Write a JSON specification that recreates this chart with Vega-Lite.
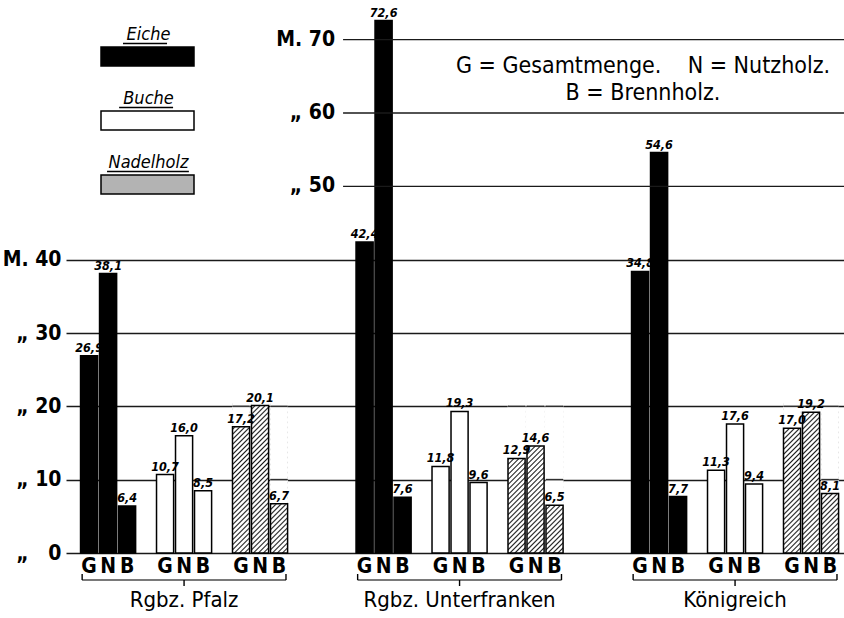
{
  "$schema": "https://vega.github.io/schema/vega-lite/v6.json",
  "width": 778,
  "height": 550,
  "autosize": {"type": "none"},
  "padding": {"left": 66, "top": 3, "right": 0, "bottom": 65},
  "background": "white",
  "config": {
    "view": {"stroke": null},
    "font": "Liberation Sans Narrow, DejaVu Sans Condensed, sans-serif"
  },
  "title": {
    "text": ["G = Gesamtmenge.\u00a0\u00a0\u00a0 N = Nutzholz.", "B = Brennholz."],
    "anchor": "middle",
    "frame": "group",
    "orient": "top",
    "offset": 0,
    "dx": 188,
    "dy": 102,
    "baseline": "top",
    "align": "center",
    "fontSize": 23,
    "fontWeight": "normal",
    "color": "#000",
    "lineHeight": 27
  },
  "datasets": {
    "bars": [
      {"region": "Rgbz. Pfalz", "species": "Eiche", "measure": "G", "bar": "Eiche G", "value": 26.9, "label": "26,9"},
      {"region": "Rgbz. Pfalz", "species": "Eiche", "measure": "N", "bar": "Eiche N", "value": 38.1, "label": "38,1"},
      {"region": "Rgbz. Pfalz", "species": "Eiche", "measure": "B", "bar": "Eiche B", "value": 6.4, "label": "6,4"},
      {"region": "Rgbz. Pfalz", "species": "Buche", "measure": "G", "bar": "Buche G", "value": 10.7, "label": "10,7"},
      {"region": "Rgbz. Pfalz", "species": "Buche", "measure": "N", "bar": "Buche N", "value": 16.0, "label": "16,0"},
      {"region": "Rgbz. Pfalz", "species": "Buche", "measure": "B", "bar": "Buche B", "value": 8.5, "label": "8,5"},
      {"region": "Rgbz. Pfalz", "species": "Nadelholz", "measure": "G", "bar": "Nadelholz G", "value": 17.2, "label": "17,2"},
      {"region": "Rgbz. Pfalz", "species": "Nadelholz", "measure": "N", "bar": "Nadelholz N", "value": 20.1, "label": "20,1"},
      {"region": "Rgbz. Pfalz", "species": "Nadelholz", "measure": "B", "bar": "Nadelholz B", "value": 6.7, "label": "6,7"},
      {"region": "Rgbz. Unterfranken", "species": "Eiche", "measure": "G", "bar": "Eiche G", "value": 42.4, "label": "42,4"},
      {"region": "Rgbz. Unterfranken", "species": "Eiche", "measure": "N", "bar": "Eiche N", "value": 72.6, "label": "72,6"},
      {"region": "Rgbz. Unterfranken", "species": "Eiche", "measure": "B", "bar": "Eiche B", "value": 7.6, "label": "7,6"},
      {"region": "Rgbz. Unterfranken", "species": "Buche", "measure": "G", "bar": "Buche G", "value": 11.8, "label": "11,8"},
      {"region": "Rgbz. Unterfranken", "species": "Buche", "measure": "N", "bar": "Buche N", "value": 19.3, "label": "19,3"},
      {"region": "Rgbz. Unterfranken", "species": "Buche", "measure": "B", "bar": "Buche B", "value": 9.6, "label": "9,6"},
      {"region": "Rgbz. Unterfranken", "species": "Nadelholz", "measure": "G", "bar": "Nadelholz G", "value": 12.9, "label": "12,9"},
      {"region": "Rgbz. Unterfranken", "species": "Nadelholz", "measure": "N", "bar": "Nadelholz N", "value": 14.6, "label": "14,6"},
      {"region": "Rgbz. Unterfranken", "species": "Nadelholz", "measure": "B", "bar": "Nadelholz B", "value": 6.5, "label": "6,5"},
      {"region": "Königreich", "species": "Eiche", "measure": "G", "bar": "Eiche G", "value": 38.4, "label": "34,8"},
      {"region": "Königreich", "species": "Eiche", "measure": "N", "bar": "Eiche N", "value": 54.6, "label": "54,6"},
      {"region": "Königreich", "species": "Eiche", "measure": "B", "bar": "Eiche B", "value": 7.7, "label": "7,7"},
      {"region": "Königreich", "species": "Buche", "measure": "G", "bar": "Buche G", "value": 11.3, "label": "11,3"},
      {"region": "Königreich", "species": "Buche", "measure": "N", "bar": "Buche N", "value": 17.6, "label": "17,6"},
      {"region": "Königreich", "species": "Buche", "measure": "B", "bar": "Buche B", "value": 9.4, "label": "9,4"},
      {"region": "Königreich", "species": "Nadelholz", "measure": "G", "bar": "Nadelholz G", "value": 17.0, "label": "17,0"},
      {"region": "Königreich", "species": "Nadelholz", "measure": "N", "bar": "Nadelholz N", "value": 19.2, "label": "19,2"},
      {"region": "Königreich", "species": "Nadelholz", "measure": "B", "bar": "Nadelholz B", "value": 8.1, "label": "8,1"}
    ],
    "upper": [
      {"v": 50, "t": "„ 50"},
      {"v": 60, "t": "„ 60"},
      {"v": 70, "t": "M. 70"}
    ]
  },
  "layer": [
    {
      "data": {"name": "bars"},
      "transform": [{"filter": "datum.species !== 'Nadelholz'"}],
      "mark": {"type": "bar", "stroke": "#000", "strokeWidth": 1.5},
      "encoding": {
        "x": {
          "field": "region", "type": "nominal", "title": null,
          "scale": {"domain": ["Rgbz. Pfalz", "Rgbz. Unterfranken", "Königreich"], "paddingInner": 0.245, "paddingOuter": 0.0345, "align": 0.74},
          "axis": {"domain": false, "ticks": false, "labelPadding": 36, "labelFontSize": 22, "labelLimit": 0, "labelColor": "#000", "labelAngle": 0}
        },
        "xOffset": {
          "field": "bar", "type": "nominal",
          "scale": {"domain": ["Eiche G", "Eiche N", "Eiche B", "sp1", "Buche G", "Buche N", "Buche B", "sp2", "Nadelholz G", "Nadelholz N", "Nadelholz B"], "paddingInner": 0.1, "paddingOuter": 0.025}
        },
        "y": {
          "field": "value", "type": "quantitative", "title": null,
          "scale": {"domain": [0, 75], "nice": false, "zero": true},
          "axis": {
            "values": [0, 10, 20, 30, 40], "domain": false, "ticks": false, "grid": true,
            "gridColor": "#1a1a1a", "gridWidth": 1.3, "gridOpacity": 1,
            "labelPadding": 5, "labelFontSize": 21, "labelFontWeight": "bold", "labelColor": "#000",
            "labelExpr": "datum.value == 40 ? 'M. 40' : (datum.value == 0 ? '„\u00a0\u00a0\u00a00' : '„\u00a0' + datum.value)"
          }
        },
        "fill": {
          "field": "species", "type": "nominal",
          "scale": {"domain": ["Eiche", "Buche", "Nadelholz"], "range": ["#000000", "#ffffff", "#b3b3b3"]},
          "legend": {
            "orient": "none", "legendX": 34, "legendY": 6, "title": null, "padding": 0,
            "symbolSize": 8649, "symbolStrokeColor": "#000", "symbolStrokeWidth": 1.5,
            "symbolType": "M-1,-0.204H1V0.204H-1Z",
            "labelFontSize": 18, "labelFontStyle": "italic", "labelColor": "#000",
            "labelAlign": "center", "labelOffset": -46.5, "rowPadding": 4,
            "encode": {
              "symbols": {"update": {
                "stroke": {"value": "#000"},
                "strokeWidth": {"value": 1.5},
                "shape": [
                  {"test": "datum.value === 'Eiche'", "value": "M-1,-0.204H1V0.204H-1Z M-0.527,-0.28H0.42"},
                  {"test": "datum.value === 'Buche'", "value": "M-1,-0.204H1V0.204H-1Z M-0.61,-0.28H0.55"},
                  {"value": "M-1,-0.204H1V0.204H-1Z M-0.87,-0.28H0.89"}
                ]
              }},
              "labels": {"update": {"dy": {"value": -22}}}
            }
          }
        }
      }
    },
    {
      "data": {"name": "bars"},
      "transform": [{"filter": "datum.species === 'Nadelholz'"}],
      "mark": {"type": "bar", "strokeWidth": 0, "fill": {"gradient": "linear", "x1": 0, "y1": 0, "x2": 0.1251, "y2": 1.0997, "stops": [
        {"offset": 0, "color": "#fff"}, {"offset": 0.009, "color": "#1a1a1a"}, {"offset": 0.018, "color": "#fff"},
        {"offset": 0.03, "color": "#fff"}, {"offset": 0.039, "color": "#1a1a1a"}, {"offset": 0.048, "color": "#fff"},
        {"offset": 0.06, "color": "#fff"}, {"offset": 0.069, "color": "#1a1a1a"}, {"offset": 0.078, "color": "#fff"},
        {"offset": 0.09, "color": "#fff"}, {"offset": 0.099, "color": "#1a1a1a"}, {"offset": 0.108, "color": "#fff"},
        {"offset": 0.12, "color": "#fff"}, {"offset": 0.129, "color": "#1a1a1a"}, {"offset": 0.138, "color": "#fff"},
        {"offset": 0.15, "color": "#fff"}, {"offset": 0.159, "color": "#1a1a1a"}, {"offset": 0.168, "color": "#fff"},
        {"offset": 0.18, "color": "#fff"}, {"offset": 0.189, "color": "#1a1a1a"}, {"offset": 0.198, "color": "#fff"},
        {"offset": 0.21, "color": "#fff"}, {"offset": 0.219, "color": "#1a1a1a"}, {"offset": 0.228, "color": "#fff"},
        {"offset": 0.24, "color": "#fff"}, {"offset": 0.249, "color": "#1a1a1a"}, {"offset": 0.258, "color": "#fff"},
        {"offset": 0.27, "color": "#fff"}, {"offset": 0.279, "color": "#1a1a1a"}, {"offset": 0.288, "color": "#fff"},
        {"offset": 0.3, "color": "#fff"}, {"offset": 0.309, "color": "#1a1a1a"}, {"offset": 0.318, "color": "#fff"},
        {"offset": 0.33, "color": "#fff"}, {"offset": 0.339, "color": "#1a1a1a"}, {"offset": 0.348, "color": "#fff"},
        {"offset": 0.36, "color": "#fff"}, {"offset": 0.369, "color": "#1a1a1a"}, {"offset": 0.378, "color": "#fff"},
        {"offset": 0.39, "color": "#fff"}, {"offset": 0.399, "color": "#1a1a1a"}, {"offset": 0.408, "color": "#fff"},
        {"offset": 0.42, "color": "#fff"}, {"offset": 0.429, "color": "#1a1a1a"}, {"offset": 0.438, "color": "#fff"},
        {"offset": 0.45, "color": "#fff"}, {"offset": 0.459, "color": "#1a1a1a"}, {"offset": 0.468, "color": "#fff"},
        {"offset": 0.48, "color": "#fff"}, {"offset": 0.489, "color": "#1a1a1a"}, {"offset": 0.498, "color": "#fff"},
        {"offset": 0.51, "color": "#fff"}, {"offset": 0.519, "color": "#1a1a1a"}, {"offset": 0.528, "color": "#fff"},
        {"offset": 0.54, "color": "#fff"}, {"offset": 0.549, "color": "#1a1a1a"}, {"offset": 0.558, "color": "#fff"},
        {"offset": 0.57, "color": "#fff"}, {"offset": 0.579, "color": "#1a1a1a"}, {"offset": 0.588, "color": "#fff"},
        {"offset": 0.6, "color": "#fff"}, {"offset": 0.609, "color": "#1a1a1a"}, {"offset": 0.618, "color": "#fff"},
        {"offset": 0.63, "color": "#fff"}, {"offset": 0.639, "color": "#1a1a1a"}, {"offset": 0.648, "color": "#fff"},
        {"offset": 0.66, "color": "#fff"}, {"offset": 0.669, "color": "#1a1a1a"}, {"offset": 0.678, "color": "#fff"},
        {"offset": 0.69, "color": "#fff"}, {"offset": 0.699, "color": "#1a1a1a"}, {"offset": 0.708, "color": "#fff"},
        {"offset": 0.72, "color": "#fff"}, {"offset": 0.729, "color": "#1a1a1a"}, {"offset": 0.738, "color": "#fff"},
        {"offset": 0.75, "color": "#fff"}, {"offset": 0.759, "color": "#1a1a1a"}, {"offset": 0.768, "color": "#fff"},
        {"offset": 0.78, "color": "#fff"}, {"offset": 0.789, "color": "#1a1a1a"}, {"offset": 0.798, "color": "#fff"},
        {"offset": 0.81, "color": "#fff"}, {"offset": 0.819, "color": "#1a1a1a"}, {"offset": 0.828, "color": "#fff"},
        {"offset": 0.84, "color": "#fff"}, {"offset": 0.849, "color": "#1a1a1a"}, {"offset": 0.858, "color": "#fff"},
        {"offset": 0.87, "color": "#fff"}, {"offset": 0.879, "color": "#1a1a1a"}, {"offset": 0.888, "color": "#fff"},
        {"offset": 0.9, "color": "#fff"}, {"offset": 0.909, "color": "#1a1a1a"}, {"offset": 0.918, "color": "#fff"},
        {"offset": 0.93, "color": "#fff"}, {"offset": 0.939, "color": "#1a1a1a"}, {"offset": 0.948, "color": "#fff"},
        {"offset": 0.96, "color": "#fff"}, {"offset": 0.969, "color": "#1a1a1a"}, {"offset": 0.978, "color": "#fff"},
        {"offset": 1, "color": "#fff"}
      ]}},
      "encoding": {
        "x": {"field": "region", "type": "nominal", "title": null},
        "xOffset": {"field": "bar", "type": "nominal"},
        "y": {"datum": 20.5, "type": "quantitative", "title": null},
        "y2": {"datum": 0}
      }
    },
    {
      "data": {"name": "bars"},
      "transform": [{"filter": "datum.species === 'Nadelholz'"}],
      "mark": {"type": "bar", "fill": "#ffffff", "stroke": "#ffffff", "strokeWidth": 0.6},
      "encoding": {
        "x": {"field": "region", "type": "nominal", "title": null},
        "xOffset": {"field": "bar", "type": "nominal"},
        "y": {"field": "value", "type": "quantitative", "title": null},
        "y2": {"datum": 20.7}
      }
    },
    {
      "data": {"name": "bars"},
      "transform": [{"filter": "datum.species === 'Nadelholz' && datum.value < 20"}],
      "mark": {"type": "bar", "fill": "#1a1a1a", "stroke": "#1a1a1a", "strokeWidth": 0.4},
      "encoding": {
        "x": {"field": "region", "type": "nominal", "title": null},
        "xOffset": {"field": "bar", "type": "nominal"},
        "y": {"datum": 20.07, "type": "quantitative", "title": null},
        "y2": {"datum": 19.93}
      }
    },
    {
      "data": {"name": "bars"},
      "transform": [{"filter": "datum.species === 'Nadelholz' && datum.value < 10"}],
      "mark": {"type": "bar", "fill": "#1a1a1a", "stroke": "#1a1a1a", "strokeWidth": 0.4},
      "encoding": {
        "x": {"field": "region", "type": "nominal", "title": null},
        "xOffset": {"field": "bar", "type": "nominal"},
        "y": {"datum": 10.07, "type": "quantitative", "title": null},
        "y2": {"datum": 9.93}
      }
    },
    {
      "data": {"name": "bars"},
      "transform": [{"filter": "datum.species === 'Nadelholz'"}],
      "mark": {"type": "bar", "filled": false, "color": "#000", "strokeWidth": 1.5},
      "encoding": {
        "x": {"field": "region", "type": "nominal", "title": null},
        "xOffset": {"field": "bar", "type": "nominal"},
        "y": {"field": "value", "type": "quantitative", "title": null}
      }
    },
    {
      "data": {"name": "upper"},
      "mark": {"type": "rule", "xOffset": -12.5, "color": "#1a1a1a", "strokeWidth": 1.3},
      "encoding": {
        "x": {"datum": "Rgbz. Unterfranken", "type": "nominal", "bandPosition": 0, "title": null},
        "x2": {"value": "width"},
        "y": {"field": "v", "type": "quantitative", "title": null}
      }
    },
    {
      "data": {"name": "upper"},
      "mark": {"type": "text", "align": "right", "baseline": "middle", "dx": -20.5, "fontSize": 21, "fontWeight": "bold", "color": "#000"},
      "encoding": {
        "x": {"datum": "Rgbz. Unterfranken", "type": "nominal", "bandPosition": 0, "title": null},
        "y": {"field": "v", "type": "quantitative", "title": null},
        "text": {"field": "t"}
      }
    },
    {
      "data": {"name": "bars"},
      "mark": {"type": "text", "baseline": "alphabetic", "dy": -4, "fontSize": 12.5, "fontStyle": "italic", "fontWeight": "bold", "color": "#000"},
      "encoding": {
        "x": {"field": "region", "type": "nominal", "title": null},
        "xOffset": {"field": "bar", "type": "nominal"},
        "y": {"field": "value", "type": "quantitative", "title": null},
        "text": {"field": "label"}
      }
    },
    {
      "data": {"name": "bars"},
      "mark": {"type": "text", "baseline": "alphabetic", "dy": 20, "fontSize": 21, "fontWeight": "bold", "color": "#000"},
      "encoding": {
        "x": {"field": "region", "type": "nominal", "title": null},
        "xOffset": {"field": "bar", "type": "nominal"},
        "y": {"datum": 0, "type": "quantitative", "title": null},
        "text": {"field": "measure"}
      }
    },
    {
      "data": {"name": "bars"},
      "transform": [{"filter": "datum.bar === 'Eiche G'"}],
      "mark": {"type": "tick", "orient": "horizontal", "size": 204, "thickness": 1.4, "yOffset": 27, "color": "#000"},
      "encoding": {
        "x": {"field": "region", "type": "nominal", "title": null},
        "y": {"datum": 0, "type": "quantitative", "title": null}
      }
    },
    {
      "data": {"name": "bars"},
      "transform": [{"filter": "datum.bar === 'Eiche G'"}],
      "mark": {"type": "rule", "yOffset": 21, "y2Offset": 27, "color": "#000", "strokeWidth": 1.4},
      "encoding": {
        "x": {"field": "region", "type": "nominal", "bandPosition": 0.01, "title": null},
        "y": {"datum": 0, "type": "quantitative", "title": null},
        "y2": {"datum": 0}
      }
    },
    {
      "data": {"name": "bars"},
      "transform": [{"filter": "datum.bar === 'Eiche G'"}],
      "mark": {"type": "rule", "yOffset": 21, "y2Offset": 27, "color": "#000", "strokeWidth": 1.4},
      "encoding": {
        "x": {"field": "region", "type": "nominal", "bandPosition": 0.99, "title": null},
        "y": {"datum": 0, "type": "quantitative", "title": null},
        "y2": {"datum": 0}
      }
    },
    {
      "data": {"name": "bars"},
      "transform": [{"filter": "datum.bar === 'Eiche G'"}],
      "mark": {"type": "rule", "yOffset": 27, "y2Offset": 33, "color": "#000", "strokeWidth": 1.4},
      "encoding": {
        "x": {"field": "region", "type": "nominal", "bandPosition": 0.5, "title": null},
        "y": {"datum": 0, "type": "quantitative", "title": null},
        "y2": {"datum": 0}
      }
    }
  ]
}
